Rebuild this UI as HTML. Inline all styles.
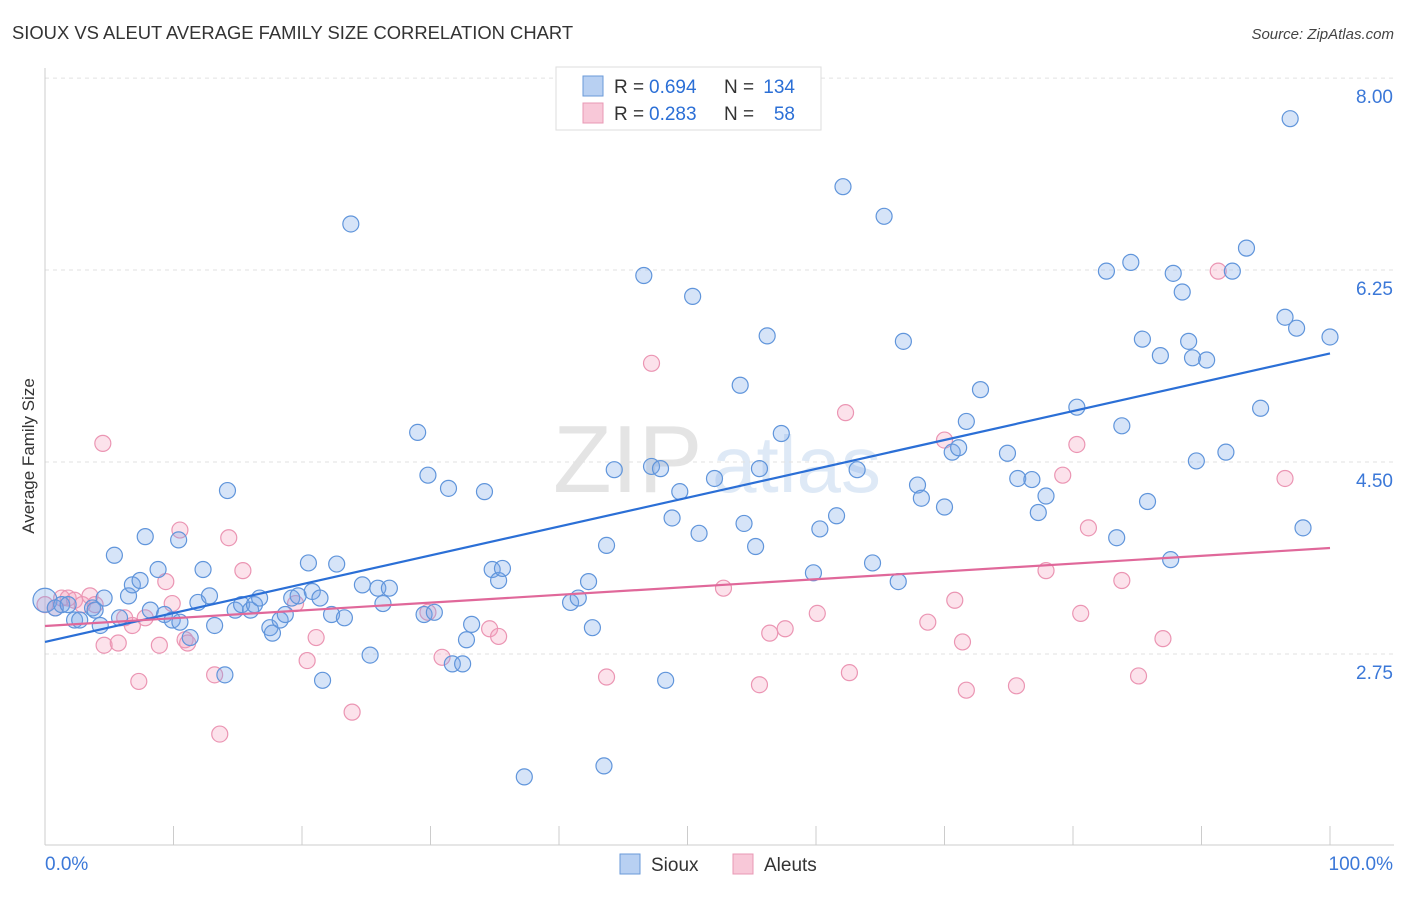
<!DOCTYPE html>
<html><head><meta charset="utf-8">
<style>
body{margin:0;background:#fff;font-family:"Liberation Sans",sans-serif;}
svg text{font-family:"Liberation Sans",sans-serif;}
</style></head>
<body>
<svg id="chart" width="1406" height="892" viewBox="0 0 1406 892" xmlns="http://www.w3.org/2000/svg">
<text x="12" y="39" font-size="18.4" fill="#333">SIOUX VS ALEUT AVERAGE FAMILY SIZE CORRELATION CHART</text>
<text x="1394" y="39" font-size="15" fill="#444" text-anchor="end" font-style="italic">Source: ZipAtlas.com</text>
<g opacity="0.55">
<text x="553" y="492" font-size="96" font-family="Liberation Serif" fill="#cfcfcf">ZIP</text>
<text x="712" y="492" font-size="80" fill="#c4d8ef">atlas</text>
</g>
<g id="grid"></g>
<g id="axes"></g>
<g id="pink"></g>
<g id="blue"></g>
<g id="lines"></g>
<text transform="translate(34,456) rotate(-90)" font-size="17" fill="#333" text-anchor="middle">Average Family Size</text>
<g>
<rect x="556" y="67" width="265" height="63" fill="#fff" stroke="#ddd"/>
<rect x="583" y="76" width="20" height="20" fill="#b8d0f2" stroke="#6a9ad8"/>
<rect x="583" y="103" width="20" height="20" fill="#f8c8d8" stroke="#e898b4"/>
<text x="614" y="93" font-size="19" fill="#333">R =</text>
<text x="649" y="93" font-size="19" fill="#2b6fd6">0.694</text>
<text x="724" y="93" font-size="19" fill="#333">N =</text>
<text x="795" y="93" font-size="19" fill="#2b6fd6" text-anchor="end">134</text>
<text x="614" y="120" font-size="19" fill="#333">R =</text>
<text x="649" y="120" font-size="19" fill="#2b6fd6">0.283</text>
<text x="724" y="120" font-size="19" fill="#333">N =</text>
<text x="795" y="120" font-size="19" fill="#2b6fd6" text-anchor="end">58</text>
</g>
<g>
<rect x="620" y="854" width="20" height="20" fill="#b8d0f2" stroke="#6a9ad8"/>
<text x="651" y="871" font-size="19" fill="#333">Sioux</text>
<rect x="733" y="854" width="20" height="20" fill="#f8c8d8" stroke="#e898b4"/>
<text x="764" y="871" font-size="19" fill="#333">Aleuts</text>
</g>
</svg>
<script>
const yTicks=[2.75,4.50,6.25,8.00];
const yTickLabels=["2.75","4.50","6.25","8.00"];
const xTickLabels=["0.0%","100.0%"];
const siouxX=[0,.8,1.3,1.8,2.3,2.7,3.7,3.9,4.3,4.6,5.4,5.8,6.5,6.8,7.4,7.8,8.2,8.8,9.3,9.9,10.4,10.5,11.3,11.9,12.3,12.8,13.2,14.2,14.0,14.8,15.3,16.0,16.3,16.7,17.5,17.7,18.3,18.7,19.2,19.7,20.5,20.8,21.4,21.6,22.3,22.7,23.3,23.8,24.7,25.3,25.9,26.3,26.8,29.0,29.5,29.8,30.3,31.4,31.7,32.5,32.8,33.2,34.2,34.8,35.3,35.6,37.3,40.9,41.5,42.3,42.6,43.5,43.7,44.3,46.6,47.2,47.9,48.3,48.8,49.4,50.4,50.9,52.1,54.1,54.4,55.3,55.6,56.2,57.3,59.8,60.3,61.6,62.1,63.2,64.4,65.3,66.4,66.8,67.9,68.2,70.0,70.6,71.1,71.7,72.8,74.9,75.7,76.8,77.3,77.9,80.3,82.6,83.4,83.8,84.5,85.4,85.8,86.8,87.6,87.8,88.5,89.0,89.3,89.6,90.4,91.9,92.4,93.5,94.6,96.5,96.9,97.4,97.9,100];
const siouxY=[3.24,3.17,3.20,3.20,3.06,3.06,3.17,3.15,3.01,3.26,3.65,3.08,3.28,3.38,3.42,3.82,3.15,3.52,3.11,3.06,3.79,3.04,2.90,3.22,3.52,3.28,3.01,4.24,2.56,3.15,3.20,3.15,3.20,3.26,2.99,2.94,3.06,3.11,3.26,3.28,3.58,3.32,3.26,2.51,3.11,3.57,3.08,6.67,3.38,2.74,3.35,3.21,3.35,4.77,3.11,4.38,3.13,4.26,2.66,2.66,2.88,3.02,4.23,3.52,3.42,3.53,1.63,3.22,3.26,3.41,2.99,1.73,3.74,4.43,6.20,4.46,4.44,2.51,3.99,4.23,6.01,3.85,4.35,5.20,3.94,3.73,4.44,5.65,4.76,3.49,3.89,4.01,7.01,4.43,3.58,6.74,3.41,5.60,4.29,4.17,4.09,4.59,4.63,4.87,5.16,4.58,4.35,4.34,4.04,4.19,5.00,6.24,3.81,4.83,6.32,5.62,4.14,5.47,3.61,6.22,6.05,5.60,5.45,4.51,5.43,4.59,6.24,6.45,4.99,5.82,7.63,5.72,3.90,5.64];
const aleutX=[0,.8,1.3,1.8,2.3,2.9,3.5,3.9,4.5,4.6,5.7,6.2,6.8,7.3,7.8,8.9,9.4,9.9,10.5,10.9,11.1,13.2,13.6,14.3,15.4,19.5,20.4,21.1,23.9,29.8,30.9,34.6,35.3,43.7,47.2,52.8,55.6,56.4,57.6,60.1,62.3,62.6,68.7,70.0,70.8,71.4,71.7,75.6,77.9,79.2,80.3,80.6,81.2,83.8,85.1,87.0,91.3,96.5];
const aleutY=[3.20,3.17,3.26,3.26,3.24,3.20,3.28,3.20,4.67,2.83,2.85,3.08,3.01,2.50,3.08,2.83,3.41,3.21,3.88,2.88,2.85,2.56,2.02,3.81,3.51,3.21,2.69,2.90,2.22,3.13,2.72,2.98,2.91,2.54,5.40,3.35,2.47,2.94,2.98,3.12,4.95,2.58,3.04,4.70,3.24,2.86,2.42,2.46,3.51,4.38,4.66,3.12,3.90,3.42,2.55,2.89,6.24,4.35];
const siouxTrend=[2.86,5.49];
const aleutTrend=[3.005,3.716];

const NS="http://www.w3.org/2000/svg";
const X0=45,X1=1330,YB=845;
const xs=p=>X0+(X1-X0)*p/100;
const ys=v=>654-(v-2.75)*109.7;
function mk(tag,attrs,parent){const e=document.createElementNS(NS,tag);for(const k in attrs)e.setAttribute(k,attrs[k]);parent.appendChild(e);return e;}
const grid=document.getElementById('grid'),axes=document.getElementById('axes');
yTicks.forEach((t,i)=>{
  const l=mk('line',{x1:X0,x2:1394,y1:ys(t),y2:ys(t),stroke:'#e2e2e2','stroke-dasharray':'4,4'},grid);
  
  
  const tx=mk('text',{x:1393,y:ys(t)+25,'font-size':19,fill:'#3b78d8','text-anchor':'end'},axes);
  tx.textContent=yTickLabels[i];
  
  
});
const ax=mk('line',{x1:X0,x2:X0,y1:68,y2:YB,stroke:'#ccc'},axes);


const bx=mk('line',{x1:X0,x2:1394,y1:YB,y2:YB,stroke:'#ccc'},axes);


for(let i=0;i<=10;i++){
  const t=mk('line',{x1:xs(i*10),x2:xs(i*10),y1:YB,y2:826,stroke:'#ccc'},axes);
  
  
}
const xl0=mk('text',{x:45,y:870,'font-size':19,fill:'#3b78d8'},axes);xl0.textContent=xTickLabels[0];


const xl1=mk('text',{x:1393,y:870,'font-size':19,fill:'#3b78d8','text-anchor':'end'},axes);xl1.textContent=xTickLabels[1];


function dots(xa,ya,g,fill,stroke,name){
  xa.forEach((x,i)=>{
    const c=mk('circle',{cx:xs(x),cy:ys(ya[i]),r:i===0&&name==='sioux-point'?12:8,fill:fill,stroke:stroke,'stroke-width':1.2},g);
    
    
  });
}
dots(aleutX,aleutY,document.getElementById('pink'),'rgba(244,160,190,0.3)','#eb95b3','aleuts-point');
dots(siouxX,siouxY,document.getElementById('blue'),'rgba(120,165,232,0.3)','#6095db','sioux-point');
const lg=document.getElementById('lines');
const bl=mk('line',{x1:xs(0),y1:ys(siouxTrend[0]),x2:xs(100),y2:ys(siouxTrend[1]),stroke:'#2b6fd6','stroke-width':2.2},lg);


const pl=mk('line',{x1:xs(0),y1:ys(aleutTrend[0]),x2:xs(100),y2:ys(aleutTrend[1]),stroke:'#e0689a','stroke-width':2.2},lg);


</script>
</body></html>
